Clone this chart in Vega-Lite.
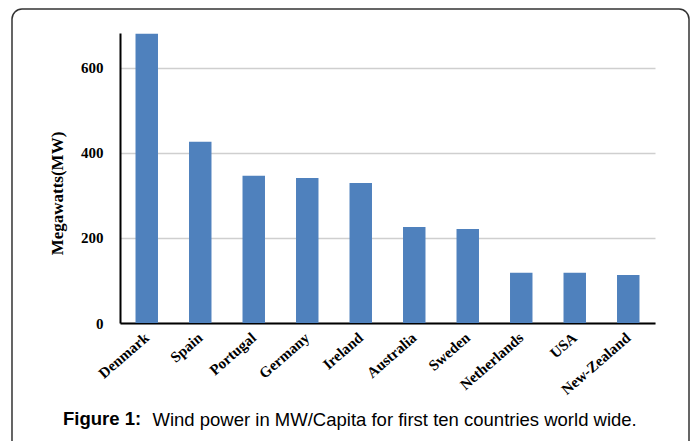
{
  "$schema": "https://vega.github.io/schema/vega-lite/v6.json",
  "width": 677,
  "height": 445,
  "autosize": {"type": "pad"},
  "padding": {"left": 12, "top": 9, "right": 5, "bottom": 0},
  "background": "white",
  "config": {
    "view": {"stroke": "#333333", "strokeWidth": 1.5, "cornerRadius": 10, "fill": "white"}
  },
  "title": {
    "text": "Figure 1:",
    "orient": "bottom",
    "anchor": "start",
    "frame": "group",
    "dx": 51,
    "offset": -29,
    "baseline": "alphabetic",
    "font": "Liberation Sans",
    "fontSize": 18.5,
    "fontWeight": "bold",
    "color": "#000000"
  },
  "data": {
    "values": [
      {"country": "Denmark", "mw": 680},
      {"country": "Spain", "mw": 426},
      {"country": "Portugal", "mw": 346},
      {"country": "Germany", "mw": 341},
      {"country": "Ireland", "mw": 329},
      {"country": "Australia", "mw": 226},
      {"country": "Sweden", "mw": 221},
      {"country": "Netherlands", "mw": 118},
      {"country": "USA", "mw": 118},
      {"country": "New-Zealand", "mw": 113}
    ]
  },
  "mark": {"type": "bar", "color": "#4f81bd"},
  "encoding": {
    "x": {
      "field": "country",
      "type": "nominal",
      "sort": null,
      "scale": {"range": [108, 643], "paddingInner": 0.58, "paddingOuter": 0.29},
      "axis": {
        "orient": "bottom",
        "offset": -131,
        "domainColor": "#000000",
        "domainWidth": 2,
        "ticks": false,
        "labelAngle": -41,
        "labelAlign": "right",
        "labelBaseline": "middle",
        "labelPadding": 12,
        "labelFont": "Liberation Serif",
        "labelFontWeight": "bold",
        "labelFontSize": 15,
        "labelColor": "#000000",
        "title": "Wind power in MW/Capita for first ten countries world wide.",
        "titleFont": "Liberation Sans",
        "titleFontWeight": "normal",
        "titleFontSize": 18.5,
        "titleColor": "#000000",
        "titleX": 140,
        "titleY": 102,
        "titleAlign": "left",
        "titleAnchor": null,
        "titleBaseline": "alphabetic",
        "titleAngle": 0
      }
    },
    "y": {
      "field": "mw",
      "type": "quantitative",
      "scale": {"domain": [0, 682], "range": [314, 24], "nice": false},
      "axis": {
        "orient": "left",
        "offset": -108,
        "values": [0, 200, 400, 600],
        "domainColor": "#000000",
        "domainWidth": 2,
        "ticks": false,
        "grid": true,
        "gridColor": "#cfcfcf",
        "gridWidth": 1.5,
        "labelPadding": 17,
        "labelFont": "Liberation Serif",
        "labelFontWeight": "bold",
        "labelFontSize": 15,
        "labelColor": "#000000",
        "title": "Megawatts(MW)",
        "titleFont": "Liberation Serif",
        "titleFontWeight": "bold",
        "titleFontSize": 17,
        "titleColor": "#000000",
        "titleAngle": -90,
        "titleAlign": "center",
        "titleBaseline": "middle",
        "titleX": -63,
        "titleY": 184
      }
    }
  }
}
